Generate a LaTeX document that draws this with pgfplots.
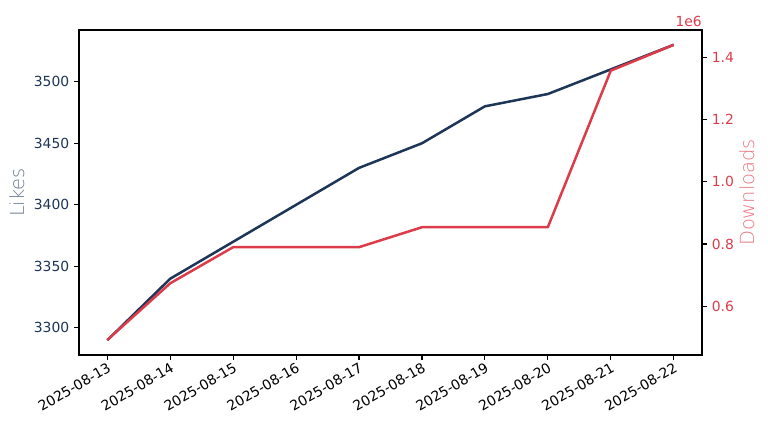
\documentclass[border=0pt]{standalone}
\usepackage{fontspec}
\setmainfont{DejaVu Sans}
\newfontfamily\lightfont{DejaVu Sans ExtraLight}
\usepackage{pgfplots}
\pgfplotsset{compat=1.18}
\definecolor{navy}{HTML}{1D3557}
\definecolor{redc}{HTML}{DC3C4A}

\begin{document}
\begin{tikzpicture}
\pgfplotsset{
  common/.style={
    scale only axis,
    width=448.56pt, height=234pt,
    xmin=-0.45, xmax=9.45,
    tick align=outside,
    major tick length=3.5pt,
    tick style={black, line width=0.8pt},
    axis line style={line width=0.8pt},
    ticklabel style={font=\fontsize{10}{12}\selectfont},
    /pgf/number format/assume math mode=true,
    /pgf/number format/1000 sep={},
  }
}
\begin{axis}[
  common,
  name=main,
  ymin=3278, ymax=3542,
  xtick={0,...,9},
  xticklabels={2025-08-13,2025-08-14,2025-08-15,2025-08-16,2025-08-17,2025-08-18,2025-08-19,2025-08-20,2025-08-21,2025-08-22},
  ytick={3300,3350,3400,3450,3500},
  xtick pos=bottom, ytick pos=left,
  xticklabel style={rotate=30, anchor=north east, inner sep=1pt},
  yticklabel style={text=navy},
  ylabel={Likes},
  ylabel style={font=\lightfont\fontsize{14}{16}\selectfont, text=navy!65},
]
\addplot[navy, line width=1.8pt, line join=round] coordinates {
(0,3290) (1,3340) (2,3370) (3,3400) (4,3430) (5,3450) (6,3480) (7,3490) (8,3510) (9,3530)
};
\end{axis}
\begin{axis}[
  common,
  name=second,
  ymin=0.4435, ymax=1.4877,
  axis x line=none,
  axis y line*=right,
  ytick={0.6,0.8,1.0,1.2,1.4},
  yticklabel style={text=redc, /pgf/number format/fixed, /pgf/number format/fixed zerofill, /pgf/number format/precision=1},
  ylabel={Downloads},
  ylabel shift=-3pt,
  ylabel style={font=\lightfont\fontsize{14}{16}\selectfont, text=redc!70},
]
\addplot[redc, line width=1.8pt, line join=round] coordinates {
(0,0.492) (1,0.674) (2,0.790) (3,0.790) (4,0.790) (5,0.854) (6,0.854) (7,0.854) (8,1.357) (9,1.440)
};
\end{axis}
\node[anchor=south east, text=redc, font=\fontsize{10}{12}\selectfont, inner sep=0pt, yshift=2pt] at (second.north east) {1e6};
\pgfresetboundingbox
\path ([xshift=-56.88pt, yshift=-55.44pt]main.south west) rectangle ([xshift=47.52pt, yshift=21.6pt]main.north east);
\end{tikzpicture}
\end{document}
